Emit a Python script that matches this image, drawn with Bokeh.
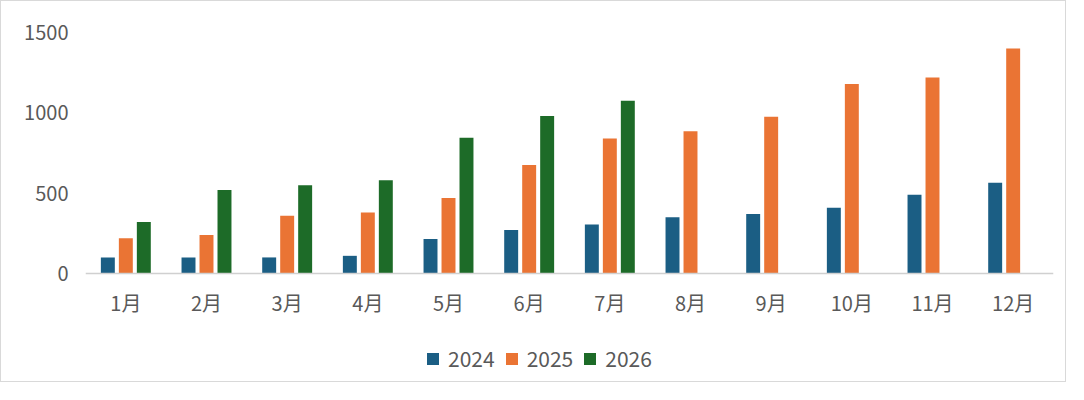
from bokeh.plotting import figure
from bokeh.models import ColumnDataSource, FactorRange, Legend, LegendItem, FixedTicker, Range1d
from bokeh.transform import dodge
from bokeh.embed import file_html
from bokeh.resources import INLINE

months = ["1月", "2月", "3月", "4月", "5月", "6月", "7月", "8月", "9月", "10月", "11月", "12月"]
v2024 = [100, 100, 100, 110, 215, 270, 305, 350, 370, 410, 490, 565]
v2025 = [220, 240, 360, 380, 470, 675, 840, 885, 975, 1180, 1220, 1400]
v2026 = [320, 520, 550, 580, 845, 980, 1075]
series_names = ["2024", "2025", "2026"]
colors = ["#1b5e84", "#ea7434", "#1d6b28"]
y_ticks = [0, 500, 1000, 1500]
y_max = 1500

FONT = "Noto Sans CJK SC"
GRAY = "#595959"

# layout (canvas pixels)
W, H = 1066, 382
left, right, top = 84, 14, 31
zero_px = 272                      # canvas y of the value 0 line
px_per_unit = (zero_px - top) / y_max
y_start = -(H - zero_px) / px_per_unit

src_a = ColumnDataSource(dict(m=months, v=v2024))
src_b = ColumnDataSource(dict(m=months, v=v2025))
src_c = ColumnDataSource(dict(m=months[:len(v2026)], v=v2026))

p = figure(width=W, height=H, x_range=FactorRange(*months), y_range=Range1d(y_start, y_max),
           output_backend="svg", toolbar_location=None,
           min_border_left=left, min_border_right=right, min_border_top=top, min_border_bottom=0)
p.styles = {"border": "1px solid #d9d9d9"}
p.background_fill_color = "white"
p.border_fill_color = "white"
p.outline_line_color = None
p.grid.visible = False

bw = 0.173
off = 0.223
r1 = p.vbar(x=dodge("m", -off, range=p.x_range), top="v", bottom=0, width=bw, source=src_a, color=colors[0], line_color=None)
r2 = p.vbar(x=dodge("m", 0, range=p.x_range), top="v", bottom=0, width=bw, source=src_b, color=colors[1], line_color=None)
r3 = p.vbar(x=dodge("m", off, range=p.x_range), top="v", bottom=0, width=bw, source=src_c, color=colors[2], line_color=None)

p.yaxis.ticker = FixedTicker(ticks=y_ticks)
p.yaxis.axis_line_color = None
p.yaxis.major_tick_line_color = None
p.yaxis.minor_tick_line_color = None
p.yaxis.major_label_standoff = 11
p.yaxis.major_label_text_font = FONT
p.yaxis.major_label_text_font_size = "20px"
p.yaxis.major_label_text_color = GRAY

p.xaxis.fixed_location = 0
p.xaxis.axis_line_color = "#d0d0d0"
p.xaxis.axis_line_width = 1.5
p.xaxis.major_tick_line_color = None
p.xaxis.minor_tick_line_color = None
p.xaxis.major_label_standoff = 8
p.xaxis.major_label_text_font = FONT
p.xaxis.major_label_text_font_size = "20px"
p.xaxis.major_label_text_color = GRAY

legend = Legend(items=[LegendItem(label=series_names[0], renderers=[r1]),
                       LegendItem(label=series_names[1], renderers=[r2]),
                       LegendItem(label=series_names[2], renderers=[r3])],
                orientation="horizontal", location=(340, 10),
                glyph_width=15, glyph_height=15, label_standoff=8, spacing=9,
                padding=0, margin=0, border_line_color=None, background_fill_alpha=0,
                label_text_font=FONT, label_text_font_size="21px", label_text_color=GRAY,
                label_height=15)
p.add_layout(legend, "center")

open("out.html", "w").write(file_html(p, INLINE))
